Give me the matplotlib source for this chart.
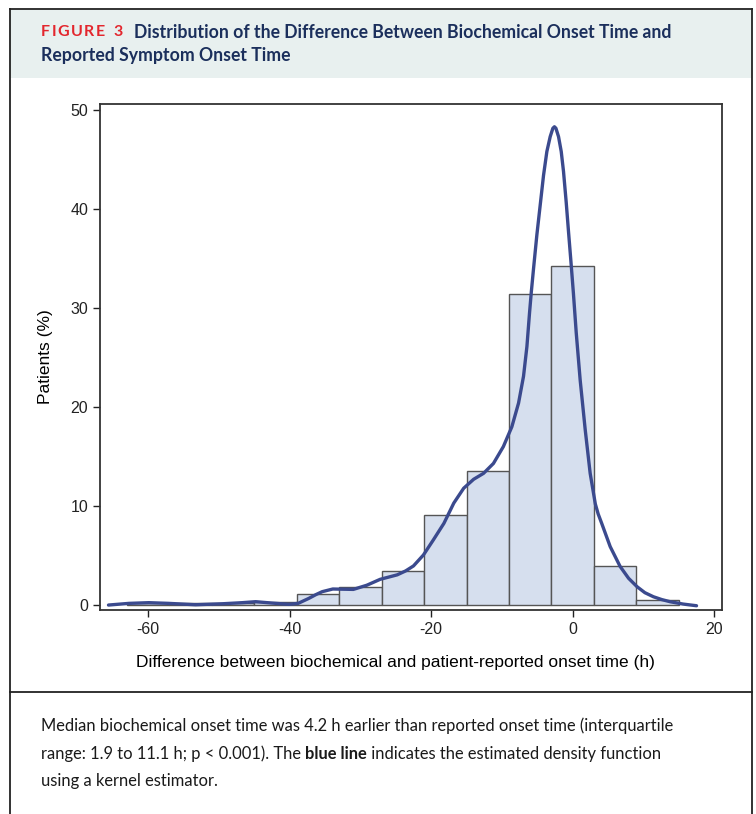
import matplotlib
matplotlib.use("Agg")
import matplotlib.pyplot as plt
from matplotlib.patches import Rectangle
from matplotlib.lines import Line2D

plt.rcParams["axes.unicode_minus"] = False

# histogram (bin width 6 h, values in % of patients)
bin_left = [-63, -57, -51, -45, -39, -33, -27, -21, -15, -9, -3, 3, 9]
bin_pct = [0.18, 0.18, 0.18, 0.3, 1.1, 1.85, 3.46, 9.08, 13.5, 31.4, 34.2, 3.97, 0.54]
bin_width = 6

# kernel density curve
kde_x = [-65.6, -62.7, -59.9, -57.1, -53.3, -49.5, -46.7, -44.8, -42.5, -40.1,
         -38.8, -37.3, -36.3, -35.4, -33.9, -32.5, -31.0, -29.1, -27.2, -24.8,
         -23.6, -22.5, -21.1, -19.7, -18.2, -16.8, -15.4, -14.0, -12.6, -11.2,
         -9.8, -8.6, -7.65, -6.95, -6.47, -6.1, -5.85, -5.53, -5.06, -4.59,
         -4.12, -3.65, -3.18, -2.8, -2.58, -2.37, -2.0, -1.62, -1.3, -0.92,
         -0.59, -0.25, 0.1, 0.5, 1.06, 1.77, 2.47, 3.2, 3.6, 4.1,
         5.3, 6.7, 7.9, 9.1, 10.2, 11.4, 12.6, 13.8, 15.6, 17.5]
kde_y = [0.0, 0.17, 0.24, 0.17, 0.03, 0.13, 0.24, 0.34, 0.2, 0.07,
         0.17, 0.67, 1.05, 1.35, 1.62, 1.6, 1.58, 2.0, 2.6, 3.05,
         3.45, 3.95, 5.05, 6.57, 8.25, 10.3, 11.8, 12.7, 13.3, 14.3,
         16.0, 18.0, 20.4, 23.1, 26.1, 29.5, 31.6, 34.0, 37.4, 40.4,
         43.4, 45.8, 47.3, 48.15, 48.3, 48.15, 47.3, 45.8, 43.8, 40.7,
         37.7, 34.7, 31.5, 27.5, 22.7, 17.7, 13.3, 10.2, 9.2, 8.25,
         5.9, 3.9, 2.7, 1.85, 1.25, 0.84, 0.55, 0.33, 0.1, -0.07]

x_ticks = [-60, -40, -20, 0, 20]
y_ticks = [0, 10, 20, 30, 40, 50]

fig = plt.figure(figsize=(7.56, 8.14), dpi=100)

W, H = 756, 814
def fx(px):
    return px / W
def fy(py):
    return 1 - py / H

# header band and frame
fig.patches.append(Rectangle((fx(10), fy(78)), fx(742), 68 / H,
                             transform=fig.transFigure, facecolor="#e8f0ef",
                             edgecolor="none", zorder=0))
for seg in [((10, 10), (9, 814)), ((752, 752), (9, 814)),
            ((10, 752), (9, 9)), ((10, 752), (692, 692))]:
    fig.lines.append(Line2D([fx(v) for v in seg[0]], [fy(v) for v in seg[1]],
                            transform=fig.transFigure, color="#222222", lw=1.3))

# title: letter-spaced red label then navy text
renderer = fig.canvas.get_renderer()
xpos = 41
for ch in "FIGURE 3":
    t = fig.text(fx(xpos), fy(32), ch, color="#e3262d", fontsize=11.5,
                 fontweight="bold", family="Lato", va="center")
    xpos = t.get_window_extent(renderer).x1 + 1.5
    if ch == " ":
        xpos += 2
fig.text(fx(xpos + 10), fy(32), "Distribution of the Difference Between Biochemical Onset Time and",
         color="#1b2f5c", fontsize=12.7, fontweight="bold", family="Lato", va="center")
fig.text(fx(41), fy(56), "Reported Symptom Onset Time",
         color="#1b2f5c", fontsize=12.7, fontweight="bold", family="Lato", va="center")

# chart
ax = fig.add_axes([fx(100), fy(610), fx(722) - fx(100), (610 - 104) / H])
ax.bar(bin_left, bin_pct, width=bin_width, align="edge", color="#d6dfee",
       edgecolor="#555555", linewidth=1.0)
ax.plot(kde_x, kde_y, color="#3b4a8e", lw=2.4, solid_capstyle="round",
        solid_joinstyle="round")

ax.set_xlim(-66.8, 21.1)
ax.set_ylim(-0.5, 50.6)
ax.set_xticks(x_ticks)
ax.set_yticks(y_ticks)
ax.tick_params(direction="out", length=5, width=1, labelsize=11.5, colors="#222222")
for lab in ax.get_xticklabels() + ax.get_yticklabels():
    lab.set_family("Liberation Sans")
for s in ax.spines.values():
    s.set_color("#333333")
    s.set_linewidth(1.3)
ax.set_xlabel("Difference between biochemical and patient-reported onset time (h)",
              fontsize=12.5, family="Liberation Sans")
ax.xaxis.set_label_coords((395 - 100) / 622, -(662 - 610) / 506)
ax.xaxis.label.set_va("center")
ax.set_ylabel("Patients (%)", fontsize=12.5, family="Liberation Sans")
ax.yaxis.set_label_coords(-(100 - 46) / 622, 0.5)
ax.yaxis.label.set_va("center")

# caption with bold "blue line"
cap_kw = dict(fontsize=11.9, family="Lato", color="#1a1a1a", va="center")
fig.text(fx(41), fy(726), "Median biochemical onset time was 4.2 h earlier than reported onset time (interquartile", **cap_kw)
p1 = fig.text(fx(41), fy(754), "range: 1.9 to 11.1 h; p < 0.001). The ", **cap_kw)
b1 = p1.get_window_extent(renderer)
p2 = fig.text(b1.x1 / W, fy(754), "blue line", fontweight="bold", **cap_kw)
b2 = p2.get_window_extent(renderer)
fig.text(b2.x1 / W, fy(754), " indicates the estimated density function", **cap_kw)
fig.text(fx(41), fy(781), "using a kernel estimator.", **cap_kw)

fig.savefig("out.png", dpi=100)
